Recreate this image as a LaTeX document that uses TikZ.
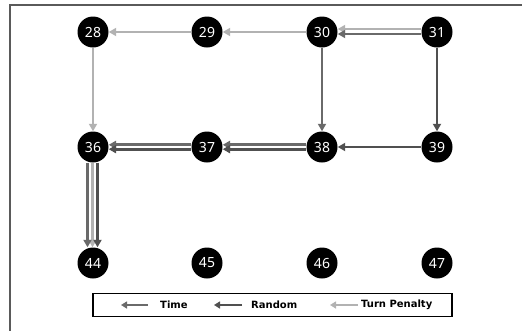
\documentclass[tikz,border=0pt]{standalone}
\usepackage{fontspec}
\setmainfont{Noto Sans}
\newfontfamily\legendfont{DejaVu Sans}
\usetikzlibrary{arrows.meta}
\definecolor{timecol}{HTML}{6A6A6A}
\definecolor{randcol}{HTML}{505050}
\definecolor{turncol}{HTML}{B2B2B2}
\definecolor{framecol}{HTML}{5A5A5A}
\tikzset{
  cell/.style={circle, fill=black, minimum size=31pt, inner sep=0pt,
    text=white, font=\fontsize{14}{16}\selectfont},
  route/.style={line width=2.8pt, -{Triangle[length=7.5pt,width=8pt]}},
  timeedge/.style={route, draw=timecol},
  randedge/.style={route, draw=randcol},
  turnedge/.style={route, draw=turncol},
  keyarrow/.style={line width=2.6pt, -{Triangle[length=6pt,width=7pt]}},
  legendtext/.style={font=\legendfont\bfseries\fontsize{10}{12}\selectfont, anchor=west, inner sep=0pt},
}
\begin{document}
\begin{tikzpicture}[x=1pt, y=-1pt]
  \useasboundingbox (0,0) rectangle (522,330);
  % outer frame (top and left edges)
  \coordinate (fa) at (10,331);
  \coordinate (fb) at (10,5);
  \coordinate (fc) at (523,5);
  \draw[framecol, line width=1.3pt] (fa) -- (fb) -- (fc);

  % grid cells
  \node[cell] (n28) at (93,32)  {28};
  \node[cell] (n29) at (207,32) {29};
  \node[cell] (n30) at (322,32) {30};
  \node[cell] (n31) at (437,32) {31};
  \node[cell] (n36) at (93,147)  {36};
  \node[cell] (n37) at (207,147) {37};
  \node[cell] (n38) at (322,147) {38};
  \node[cell] (n39) at (437,147) {39};
  \node[cell] (n44) at (93,263)  {44};
  \node[cell] (n45) at (207,263) {45};
  \node[cell] (n46) at (322,263) {46};
  \node[cell] (n47) at (437,263) {47};

  % turn-penalty route
  \draw[turnedge] ([yshift=3pt]n31.west) -- ([yshift=3pt]n30.east);
  \draw[turnedge] (n30) -- (n29);
  \draw[turnedge] (n29) -- (n28);
  \draw[turnedge] (n28) -- (n36);
  \draw[turnedge] ([xshift=-0.5pt]n36.south) -- ([xshift=-0.5pt]n44.north);

  % time route
  \draw[timeedge] ([yshift=-2pt]n31.west) -- ([yshift=-2pt]n30.east);
  \draw[timeedge] (n30) -- (n38);
  \draw[timeedge] ([yshift=2.2pt]n38.west) -- ([yshift=2.2pt]n37.east);
  \draw[timeedge] ([yshift=2.2pt]n37.west) -- ([yshift=2.2pt]n36.east);
  \draw[timeedge] ([xshift=-5.5pt]n36.south) -- ([xshift=-5.5pt]n44.north);

  % random route
  \draw[randedge] (n31) -- (n39);
  \draw[randedge] (n39) -- (n38);
  \draw[randedge] ([yshift=-2.2pt]n38.west) -- ([yshift=-2.2pt]n37.east);
  \draw[randedge] ([yshift=-2.2pt]n37.west) -- ([yshift=-2.2pt]n36.east);
  \draw[randedge] ([xshift=4.5pt]n36.south) -- ([xshift=4.5pt]n44.north);

  % legend
  \node[draw=black, line width=1.8pt, minimum width=359pt, minimum height=23pt,
        inner sep=0pt] (legend) at (272.5,305) {};
  \coordinate (ta) at (148,305); \coordinate (tb) at (121,305);
  \coordinate (ra) at (242,305); \coordinate (rb) at (214,305);
  \coordinate (pa) at (358,305); \coordinate (pb) at (330,305);
  \draw[keyarrow, draw=timecol] (ta) -- (tb);
  \draw[keyarrow, draw=randcol] (ra) -- (rb);
  \draw[keyarrow, draw=turncol] (pa) -- (pb);
  \node[legendtext] (lt) at (160,305) {Time};
  \node[legendtext] (lr) at (251,305) {Random};
  \node[legendtext] (lp) at (361,305) {Turn Penalty};
\end{tikzpicture}
\end{document}
